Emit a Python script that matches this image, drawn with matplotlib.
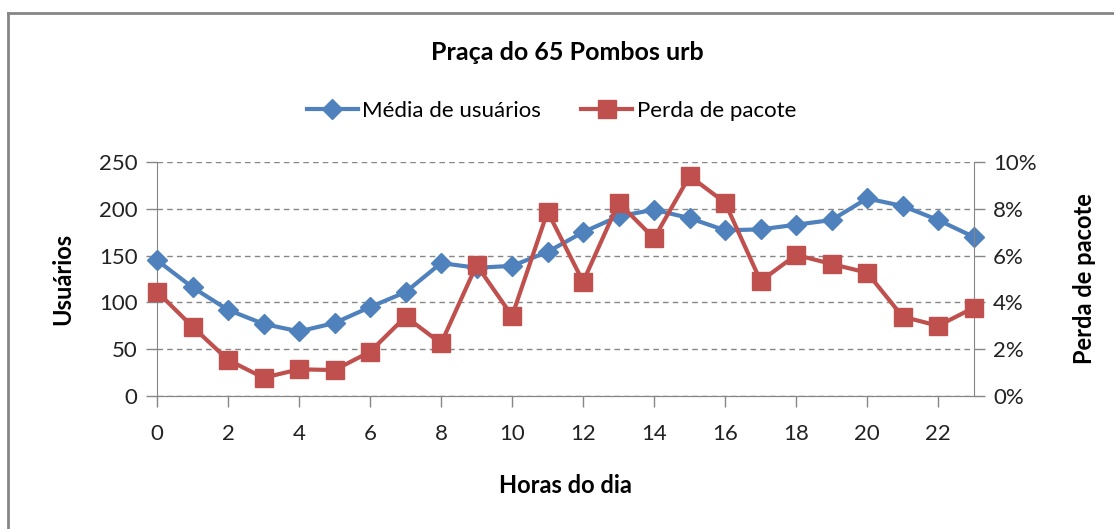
import numpy as np
import matplotlib
matplotlib.use("Agg")
import matplotlib.pyplot as plt
from matplotlib.lines import Line2D
from matplotlib.ticker import FuncFormatter, MultipleLocator

# data
horas = list(range(24))
usuarios = [145, 116, 92, 77, 69, 78, 95, 111, 142, 137, 139, 154,
            175, 192, 199, 190, 177, 178, 183, 188, 211, 203, 188, 170]
perda = [4.46, 2.96, 1.54, 0.78, 1.14, 1.11, 1.89, 3.39, 2.25, 5.60, 3.42, 7.88,
         4.88, 8.26, 6.74, 9.40, 8.26, 4.91, 6.03, 5.64, 5.27, 3.39, 3.00, 3.77]
titulo = "Praça do 65 Pombos urb"
nomes = ["Média de usuários", "Perda de pacote"]

azul = "#4F81BD"
vermelho = "#C0504D"
cinza = "#868686"

plt.rcParams['font.family'] = ['Lato', 'DejaVu Sans']

fig = plt.figure(figsize=(11.14, 5.29), dpi=100)
ax = fig.add_axes([0.141, 0.2514, 0.733, 0.4424])
ax2 = ax.twinx()

ax.plot(horas, usuarios, color=azul, lw=3, marker='D', ms=10, zorder=3, clip_on=False)
ax2.plot(horas, perda, color=vermelho, lw=3, marker='s', ms=13, zorder=3, clip_on=False)

ax.set_xlim(0, 23)
ax.set_ylim(0, 250)
ax2.set_ylim(0, 10)
ax.yaxis.set_major_locator(MultipleLocator(50))
ax2.yaxis.set_major_locator(MultipleLocator(2))
ax2.yaxis.set_major_formatter(FuncFormatter(lambda v, p: "%d%%" % v))
ax.set_xticks(range(0, 23, 2))

ax.grid(axis='y', color=cinza, ls=(0, (4, 3)), lw=1)
ax.set_axisbelow(True)

for a in (ax, ax2):
    a.spines['top'].set_visible(False)
    for s in ('left', 'right', 'bottom'):
        a.spines[s].set_color(cinza)
    a.tick_params(colors=cinza, labelcolor='#222222', labelsize=16, length=8, width=1)
ax.spines['right'].set_visible(False)
ax2.spines['left'].set_visible(False)
ax.tick_params(axis='x', pad=12)
ax.tick_params(axis='y', pad=6)
ax2.tick_params(axis='y', pad=6)

ax.set_xlabel("Horas do dia", fontsize=17, fontweight='bold', labelpad=22)
ax.set_ylabel("Usuários", fontsize=17, fontweight='bold', labelpad=18)
ax2.set_ylabel("Perda de pacote", fontsize=17, fontweight='bold', labelpad=26)

fig.text(0.509, 0.9, titulo, ha='center', va='center', fontsize=18, fontweight='bold')

handles = [Line2D([], [], color=azul, lw=3, marker='D', ms=10),
           Line2D([], [], color=vermelho, lw=3, marker='s', ms=13)]
fig.legend(handles, nomes, loc='center', bbox_to_anchor=(0.495, 0.79), ncol=2,
           frameon=False, fontsize=16, handlelength=2.3, handletextpad=0.2,
           columnspacing=1.8)

# chart border (left and top only)
fig.add_artist(Line2D([0.0075, 0.0075], [0.0, 0.975], color=cinza, lw=2, transform=fig.transFigure))
fig.add_artist(Line2D([0.0075, 1.0], [0.975, 0.975], color=cinza, lw=2, transform=fig.transFigure))

fig.savefig("out.png", dpi=100)
